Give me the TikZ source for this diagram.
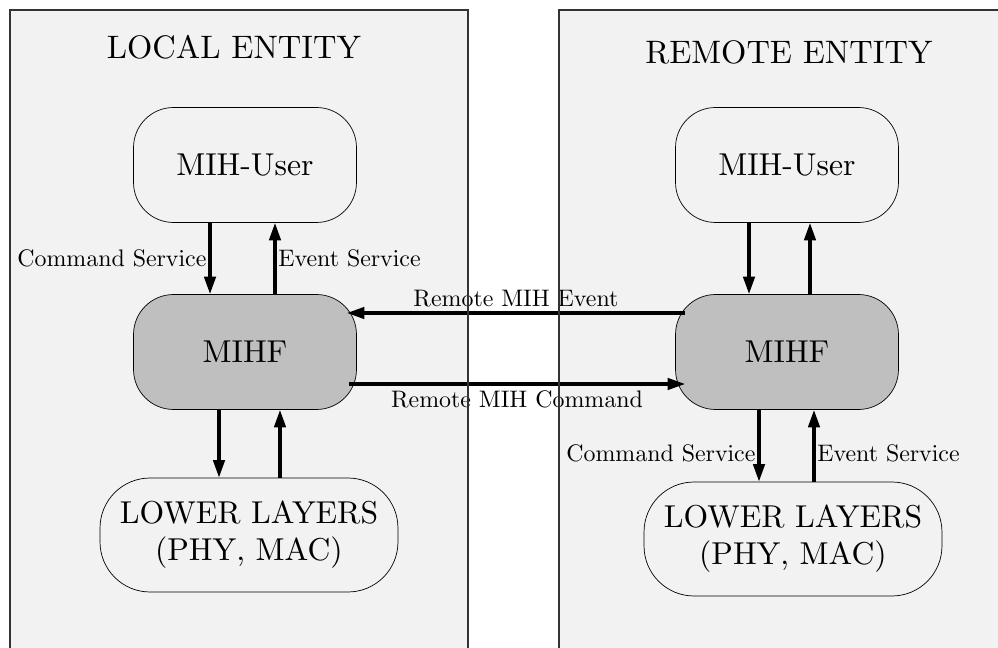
\documentclass[tikz,border=0pt]{standalone}
\usepackage{tikz}
\usetikzlibrary{calc,arrows.meta}
\font\mihfont=cmr10 at 18pt
\font\titlefont=cmr10 at 18.5pt
\font\svcfont=cmr10 at 13.6pt

\begin{document}
\begin{tikzpicture}[x=0.02cm,y=-0.02cm,
        panelfill/.style={fill=black!5},
        paneledge/.style={draw=black!80,line width=0.6pt},
        block/.style={draw,thin,rounded corners=0.8cm,minimum width=4.46cm,minimum height=2.3cm,font={\mihfont\baselineskip=21pt},align=center},
        lowblock/.style={block,rounded corners=1cm,minimum width=5.96cm,minimum height=2.28cm},
        conn/.style={line width=1.9pt,-{Triangle[length=10pt,width=6.5pt]}},
        lbl/.style={font=\svcfont,inner sep=1pt}]
        \useasboundingbox (0,0) rectangle (998,648);
        \clip (0,0) rectangle (998,648);
        \fill[panelfill] (10,10) rectangle (468,700);
        \fill[panelfill] (559,10) rectangle (1050,700);

        \node[font=\titlefont] (ltitle) at (234,47) {LOCAL ENTITY};
        \node[font=\titlefont] (rtitle) at (789,52) {REMOTE ENTITY};

        \node[block] (luser) at (245,165) {MIH-User};
        \node[block,fill=black!25] (lmihf) at (245,352) {MIHF};
        \node[lowblock] (llow) at (249,535) {LOWER LAYERS\\ (PHY, MAC)};

        \node[block] (ruser) at (787,165) {MIH-User};
        \node[block,fill=black!25] (rmihf) at (787,352) {MIHF};
        \node[lowblock] (rlow) at (793,539) {LOWER LAYERS\\ (PHY, MAC)};

        \draw[conn] ([xshift=-0.7cm]luser.south) -- node[lbl,left]{Command Service} ([xshift=-0.7cm]luser.south |- lmihf.north);
        \draw[conn] ([xshift=0.6cm]luser.south |- lmihf.north) -- node[lbl,right]{Event Service} ([xshift=0.6cm]luser.south);
        \draw[conn] ([xshift=-0.52cm]lmihf.south) -- ([xshift=-0.52cm]lmihf.south |- llow.north);
        \draw[conn] ([xshift=0.7cm]lmihf.south |- llow.north) -- ([xshift=0.7cm]lmihf.south);

        \draw[conn] ([xshift=-0.76cm]ruser.south) -- ([xshift=-0.76cm]ruser.south |- rmihf.north);
        \draw[conn] ([xshift=0.46cm]ruser.south |- rmihf.north) -- ([xshift=0.46cm]ruser.south);
        \draw[conn] ([xshift=-0.56cm]rmihf.south) -- node[lbl,left,pos=0.6]{Command Service} ([xshift=-0.56cm]rmihf.south |- rlow.north);
        \draw[conn] ([xshift=0.54cm]rmihf.south |- rlow.north) -- node[lbl,right,pos=0.4]{Event Service} ([xshift=0.54cm]rmihf.south);

        \draw[conn] ([shift={(10,-39)}]rmihf.west) -- node[lbl,above=2pt]{Remote MIH Event} ([shift={(-10,-39)}]lmihf.east);
        \draw[conn] ([shift={(-8,32)}]lmihf.east) -- node[lbl,below=2pt]{Remote MIH Command} ([shift={(10,32)}]rmihf.west);

        \draw[paneledge] (10,10) rectangle (468,700);
        \draw[paneledge] (559,10) rectangle (1050,700);
    \end{tikzpicture}
\end{document}
